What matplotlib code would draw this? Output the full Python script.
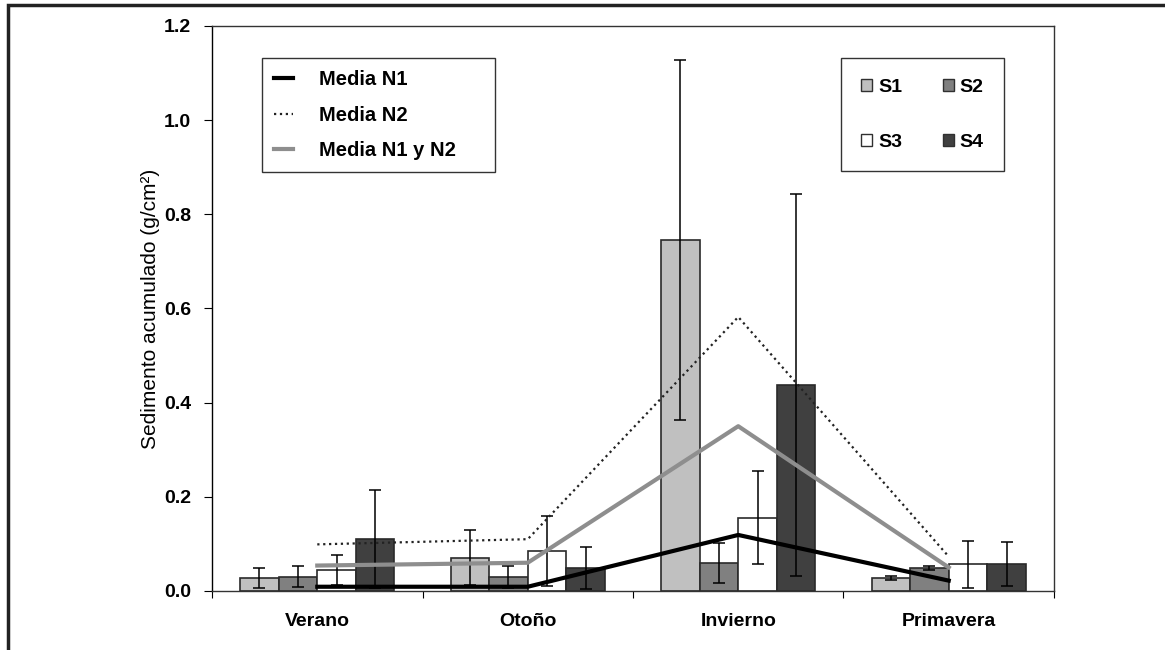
import numpy as np
import matplotlib
matplotlib.use("Agg")
import matplotlib.pyplot as plt
from matplotlib.patches import Patch, Rectangle

plt.rcParams['font.family'] = ['Liberation Sans', 'DejaVu Sans']

# valores
estaciones = ['Verano', 'Otoño', 'Invierno', 'Primavera']
s1 = [0.028, 0.071, 0.745, 0.027]
s1_err = [0.021, 0.058, 0.382, 0.004]
s2 = [0.030, 0.030, 0.060, 0.049]
s2_err = [0.022, 0.024, 0.042, 0.005]
s3 = [0.044, 0.085, 0.156, 0.057]
s3_err = [0.032, 0.075, 0.098, 0.050]
s4 = [0.111, 0.049, 0.438, 0.057]
s4_err = [0.104, 0.044, 0.406, 0.047]
media_n1 = [0.009, 0.009, 0.119, 0.022]
media_n2 = [0.099, 0.110, 0.582, 0.073]
media_n12 = [0.054, 0.060, 0.350, 0.050]

series = [('S1', s1, s1_err, '#c0c0c0'),
          ('S2', s2, s2_err, '#808080'),
          ('S3', s3, s3_err, '#ffffff'),
          ('S4', s4, s4_err, '#404040')]

fig = plt.figure(figsize=(11.65, 6.5), dpi=100)
ax = fig.add_axes([0.182, 0.0908, 0.7227, 0.8692])

x = np.arange(len(estaciones))
w = 0.1833
for k, (nombre, vals, errs, col) in enumerate(series):
    pos = x + (k - 1.5) * w
    ax.bar(pos, vals, w, color=col, edgecolor='#2a2a2a', linewidth=1.2,
           label=nombre, zorder=2)
    ax.errorbar(pos, vals, yerr=errs, fmt='none', ecolor='black',
                elinewidth=1.1, capsize=4.5, capthick=1.1, zorder=3)

l1, = ax.plot(x, media_n1, color='black', lw=3, zorder=4, label='Media N1')
l2, = ax.plot(x, media_n2, color='#222222', lw=1.6, ls=':', zorder=4,
              label='Media N2')
l3, = ax.plot(x, media_n12, color='#8e8e8e', lw=3, zorder=4,
              label='Media N1 y N2')

ax.set_xlim(-0.5, 3.5)
ax.set_ylim(0, 1.2)
ax.set_yticks(np.arange(0, 1.21, 0.2))
ax.set_yticklabels(['%.1f' % v for v in np.arange(0, 1.21, 0.2)],
                   fontsize=14, fontweight='bold')
ax.set_xticks(np.arange(-0.5, 3.6, 1.0))
ax.set_xticklabels([])
ax.set_xticks(x, minor=True)
ax.set_xticklabels(estaciones, minor=True, fontsize=14, fontweight='bold')
ax.tick_params(axis='x', which='minor', length=0, pad=16)
ax.tick_params(axis='x', which='major', length=5, direction='out')
ax.tick_params(axis='y', length=6, direction='out', pad=9)
for s in ax.spines.values():
    s.set_color('#333333')
    s.set_linewidth(1.0)
ax.spines['left'].set_color('black')

ax.set_ylabel('Sedimento acumulado (g/cm²)', fontsize=15, labelpad=3)

leg1 = ax.legend(handles=[l1, l2, l3], loc='upper left',
                 bbox_to_anchor=(0.059, 0.742, 0.277, 0.201), mode='expand',
                 borderaxespad=0, handlelength=0.95, handletextpad=1.3,
                 labelspacing=0.82, borderpad=0.6, fancybox=False,
                 edgecolor='black', prop={'size': 14.5, 'weight': 'bold'})
leg1.get_frame().set_linewidth(1.0)
ax.add_artist(leg1)

hs = {n: Patch(facecolor=c, edgecolor='#303030', lw=1.0) for n, _, _, c in series}
orden = ['S1', 'S3', 'S2', 'S4']
leg2 = ax.legend([hs[n] for n in orden], orden, ncol=2, loc='upper left',
                 bbox_to_anchor=(0.747, 0.747, 0.1936, 0.196), mode='expand',
                 borderaxespad=0, handlelength=0.55, handleheight=0.55,
                 handletextpad=0.3, columnspacing=2.0, labelspacing=1.95,
                 borderpad=1.05, fancybox=False, edgecolor='black',
                 prop={'size': 14, 'weight': 'bold'})
leg2.get_frame().set_linewidth(1.0)

# marco exterior de la figura
fig.add_artist(Rectangle((8 / 1165, -0.2), 1.2, 1.2 - 5 / 650,
                         transform=fig.transFigure, fill=False,
                         edgecolor='#222222', lw=2.5))

fig.savefig('out.png', dpi=100)
